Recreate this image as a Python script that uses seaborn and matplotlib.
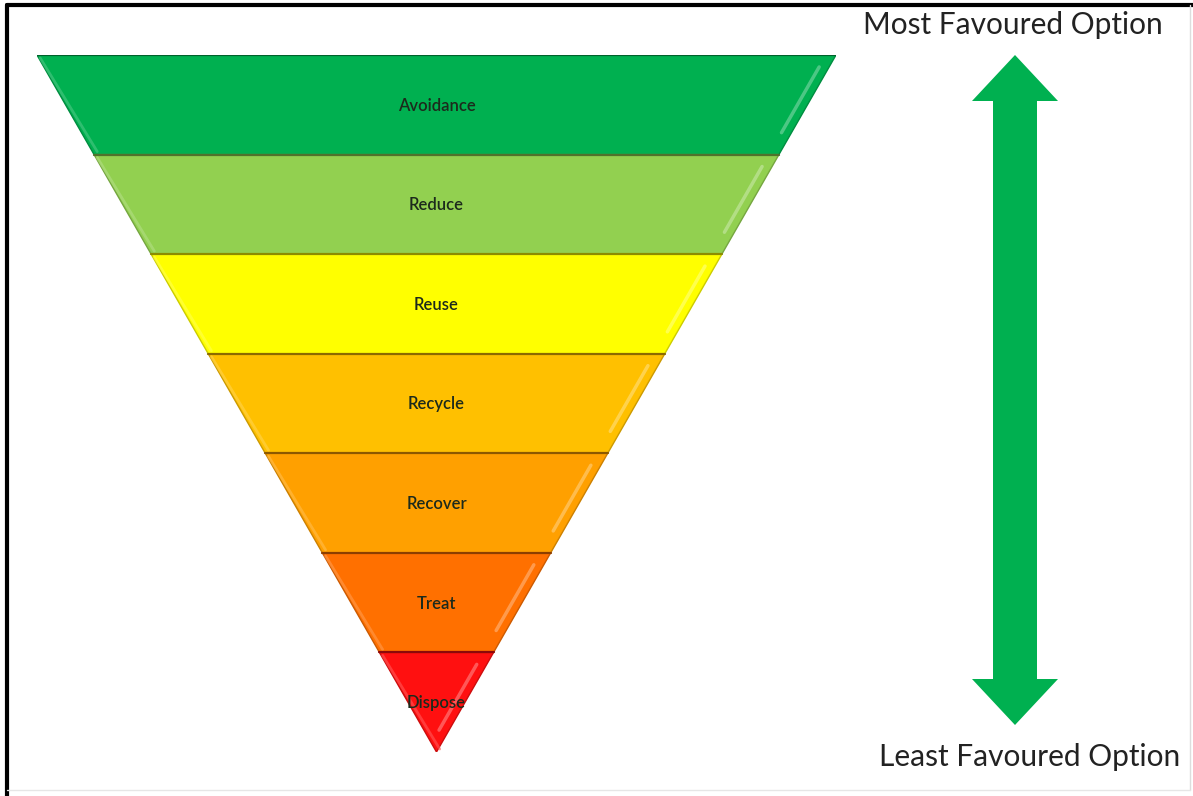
import numpy as np
import matplotlib
matplotlib.use("Agg")
import matplotlib.pyplot as plt
from matplotlib.patches import Polygon
from matplotlib.colors import to_rgb
import seaborn as sns

# ---- data ----
levels = ["Avoidance", "Reduce", "Reuse", "Recycle", "Recover", "Treat", "Dispose"]
colors = ["#00B050", "#92D050", "#FFFF00", "#FFC000", "#FFA000", "#FF7000", "#FF1010"]
top_label = "Most Favoured Option"
bottom_label = "Least Favoured Option"
arrow_color = "#00B050"

sns.set_theme(style="white")
plt.rcParams["font.family"] = ["Lato", "DejaVu Sans"]

W, H = 1193, 796
fig = plt.figure(figsize=(W / 100, H / 100), dpi=100)
fig.patch.set_facecolor("white")

def shade(c, f):
    r, g, b = to_rgb(c)
    if f < 1:
        return (r * f, g * f, b * f)
    f = f - 1
    return (r + (1 - r) * f, g + (1 - g) * f, b + (1 - b) * f)

# ---- funnel axes ----
left, right, top, bottom = 37, 836, 55, 752
ax = fig.add_axes([left / W, 1 - bottom / H, (right - left) / W, (bottom - top) / H])
n = len(levels)
ax.set_xlim(-1, 1)
ax.set_ylim(n, 0)
ax.axis("off")

def half(y):
    return (n - y) / n

for i, (name, col) in enumerate(zip(levels, colors)):
    y0, y1 = i, i + 1
    pts = [(-half(y0), y0), (half(y0), y0), (half(y1), y1), (-half(y1), y1)]
    ax.add_patch(Polygon(pts, closed=True, facecolor=col,
                         edgecolor=shade(col, 0.8), linewidth=1.0, zorder=2))
    # top dark boundary
    ax.plot([-half(y0), half(y0)], [y0, y0], color=shade(col, 0.55), lw=1.6, zorder=3)
    # bevel: lighter strip on left edge, highlight on right edge
    ins = 0.008
    ax.plot([-half(y0) + ins, -half(y1) + ins], [y0 + 0.03, y1 - 0.03],
            color=shade(col, 1.3), lw=2.0, solid_capstyle="round", zorder=3, alpha=0.6)
    ax.plot([half(y0 + 0.12) - 0.025, half(y1 - 0.22) - 0.025], [y0 + 0.12, y1 - 0.22],
            color=shade(col, 1.4), lw=2.5, solid_capstyle="round", zorder=3, alpha=0.75)
    ax.text(0, i + 0.51, name, ha="center", va="center", fontsize=12,
            color="#1c2a1c", fontweight="semibold", zorder=4)

# ---- arrow axes ----
ax2 = fig.add_axes([0, 0, 1, 1])
ax2.set_xlim(0, W)
ax2.set_ylim(H, 0)
ax2.axis("off")
ax2.patch.set_alpha(0)

cx, tip_top, tip_bot = 1015, 55, 725
head_w, head_l, shaft_w = 86, 46, 44
arrow = [(cx, tip_top), (cx + head_w / 2, tip_top + head_l), (cx + shaft_w / 2, tip_top + head_l),
         (cx + shaft_w / 2, tip_bot - head_l), (cx + head_w / 2, tip_bot - head_l), (cx, tip_bot),
         (cx - head_w / 2, tip_bot - head_l), (cx - shaft_w / 2, tip_bot - head_l),
         (cx - shaft_w / 2, tip_top + head_l), (cx - head_w / 2, tip_top + head_l)]
ax2.add_patch(Polygon(arrow, closed=True, facecolor=arrow_color, edgecolor="none"))

ax2.text(1013, 25, top_label, ha="center", va="center", fontsize=21.5, color="#222222")
ax2.text(1030, 757, bottom_label, ha="center", va="center", fontsize=21.5, color="#222222")

# frame lines
ax2.plot([7, 7], [5, H], color="black", lw=3)
ax2.plot([7, W], [5, 5], color="black", lw=3)
ax2.plot([W - 3, W - 3], [5, H - 6], color="#dddddd", lw=1)
ax2.plot([7, W - 3], [H - 6, H - 6], color="#e6e6e6", lw=1)

fig.savefig("out.png", dpi=100, facecolor="white")
